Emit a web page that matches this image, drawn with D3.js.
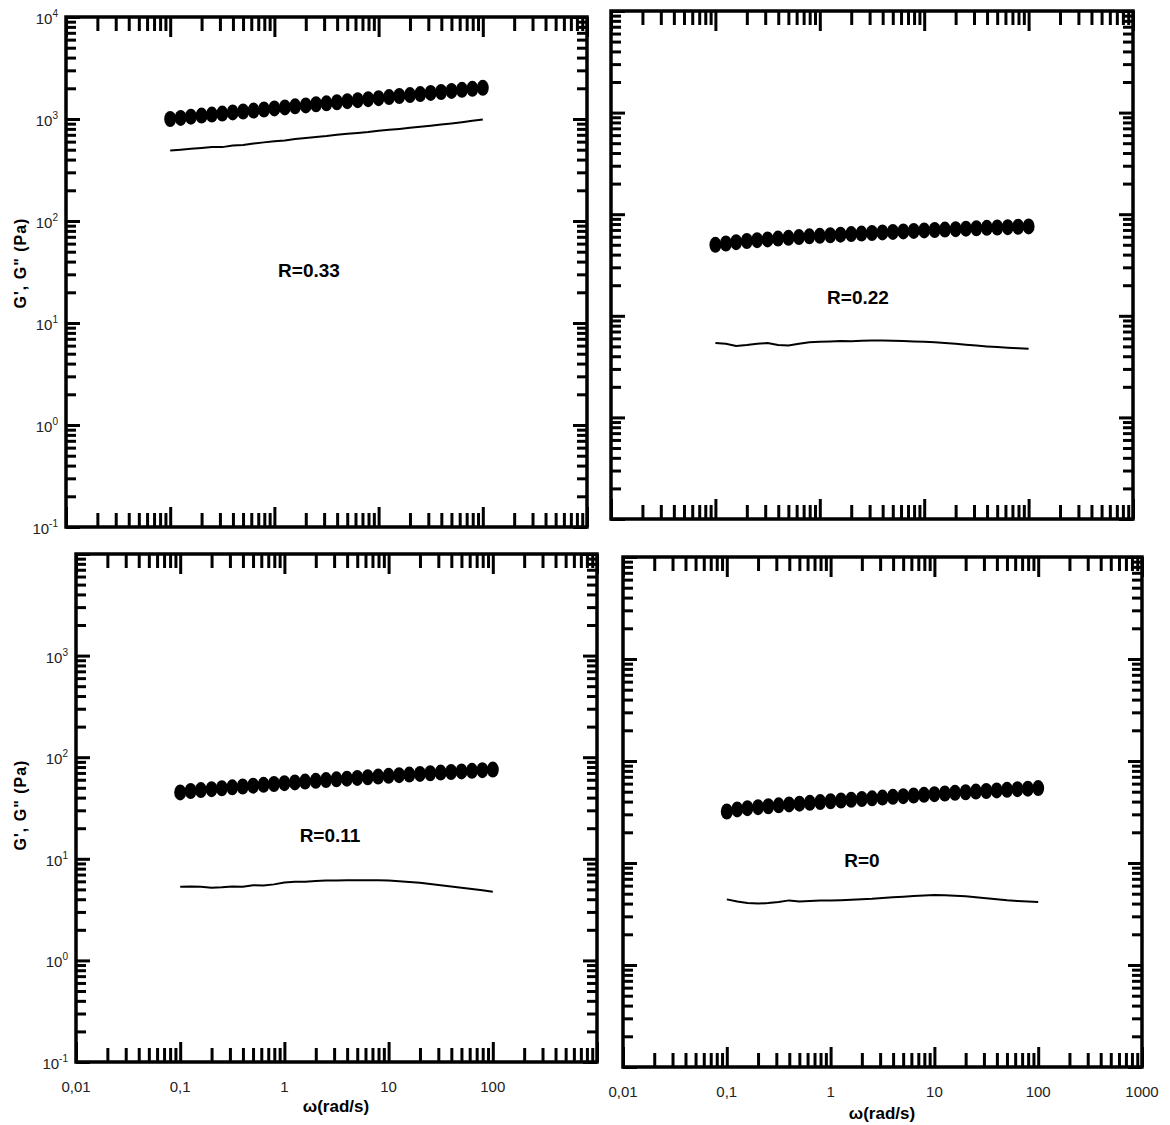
<!DOCTYPE html>
<html>
<head>
<meta charset="utf-8">
<script src="https://cdn.jsdelivr.net/npm/d3@7"></script>
<style>
body{ margin:0; background:#fff; }
svg{ font-family: "Liberation Sans", Arial, sans-serif; }
</style>
</head>
<body>
<svg id="chart" width="1170" height="1125"></svg>
<script>
// frequency sweep, 10 points per decade
var omega = [0.1, 0.126, 0.158, 0.2, 0.251, 0.316, 0.398, 0.501, 0.631, 0.794,
             1, 1.26, 1.58, 2, 2.51, 3.16, 3.98, 5.01, 6.31, 7.94,
             10, 12.6, 15.8, 20, 25.1, 31.6, 39.8, 50.1, 63.1, 79.4, 100];

// G' (circles) and G'' (line), Pa
var gp_r033  = [1000, 1025, 1055, 1080, 1105, 1130, 1160, 1185, 1210, 1240, 1270, 1300, 1330, 1360, 1395, 1425,
                1460, 1495, 1530, 1565, 1600, 1640, 1680, 1715, 1755, 1800, 1840, 1885, 1930, 1975, 2020];
var gpp_r033 = [490, 500, 510, 520, 530, 530, 550, 555, 575, 590, 605, 615, 635, 650, 665, 680,
                700, 715, 730, 745, 765, 785, 800, 820, 840, 860, 885, 905, 930, 960, 990];

var gp_r022  = [50, 51.5, 53, 54.5, 55.5, 56.5, 57.5, 58.5, 59.5, 60.5, 61.3, 62.1, 62.9, 63.7, 64.5, 65.3,
                66.1, 66.9, 67.7, 68.5, 69.2, 69.9, 70.6, 71.3, 72, 72.7, 73.4, 74, 74.6, 75.2, 75.8];
var gpp_r022 = [5.4, 5.3, 5.05, 5.15, 5.3, 5.4, 5.15, 5.1, 5.3, 5.5, 5.55, 5.6, 5.65, 5.62, 5.68, 5.7,
                5.7, 5.68, 5.65, 5.6, 5.55, 5.5, 5.4, 5.3, 5.2, 5.1, 5.0, 4.92, 4.85, 4.8, 4.75];

var gp_r011  = [45, 46.5, 47.5, 48.5, 49.5, 50.5, 51.5, 52.5, 53.5, 54.5, 55.5, 56.5, 57.5, 58.5, 59.5, 60.5,
                61.5, 62.5, 63.5, 64.5, 65.5, 66.5, 67.5, 68.5, 69.5, 70.5, 71.5, 72.5, 73.5, 74.5, 75.5];
var gpp_r011 = [5.3, 5.35, 5.3, 5.2, 5.25, 5.35, 5.3, 5.5, 5.45, 5.6, 5.85, 5.95, 5.95, 6.05, 6.1, 6.1,
                6.15, 6.15, 6.15, 6.15, 6.1, 6.0, 5.9, 5.8, 5.65, 5.5, 5.35, 5.2, 5.05, 4.9, 4.75];

var gp_r0    = [32, 33.5, 34.5, 35.3, 36, 36.8, 37.5, 38.2, 38.9, 39.6, 40.3, 41, 41.7, 42.4, 43.1, 43.8,
                44.5, 45.2, 45.9, 46.6, 47.3, 48, 48.7, 49.4, 50.1, 50.8, 51.5, 52.2, 52.9, 53.6, 54.3];
var gpp_r0   = [4.4, 4.2, 4.05, 4.0, 4.05, 4.15, 4.3, 4.2, 4.25, 4.3, 4.3, 4.32, 4.35, 4.4, 4.45, 4.55,
                4.62, 4.68, 4.75, 4.8, 4.85, 4.82, 4.78, 4.72, 4.62, 4.52, 4.42, 4.32, 4.25, 4.2, 4.15];

var panel_names = ['R=0.33', 'R=0.22', 'R=0.11', 'R=0'];

var x_domain = [0.01, 1000];
var y_domain = [0.1, 10000];
var x_tick_values = [0.01, 0.1, 1, 10, 100, 1000];
var x_tick_labels = ['0,01', '0,1', '1', '10', '100', '1000'];
var y_tick_values = [0.1, 1, 10, 100, 1000, 10000];
var y_tick_exps = ['-1', '0', '1', '2', '3', '4'];

var x_title = '\u03c9(rad/s)';
var y_title = 'G\', G" (Pa)';

/**************************************************************************************/

var layout = [
    { x0: 66,  x1: 587,  y0: 17,  y1: 527,  ylab: [0,1,2,3,4,5], xlab: [],            name: [309, 277], xt: null,       yt: [20, 263] },
    { x0: 611, x1: 1133, y0: 11,  y1: 519,  ylab: [],            xlab: [],            name: [858, 304], xt: null,       yt: null },
    { x0: 76,  x1: 597,  y0: 554, y1: 1062, ylab: [0,1,2,3,4],   xlab: [0,1,2,3,4],   name: [330, 842], xt: [336, 1112], yt: [20, 805] },
    { x0: 623, x1: 1142, y0: 557, y1: 1067, ylab: [],            xlab: [0,1,2,3,4,5], name: [862, 867], xt: [882, 1119], yt: null }
];
var series = [ [gp_r033, gpp_r033], [gp_r022, gpp_r022], [gp_r011, gpp_r011], [gp_r0, gpp_r0] ];

var svg = d3.select('#chart');

function isMajor(d){ var l = Math.log10(d); return Math.abs(l - Math.round(l)) < 1e-6; }

function drawPanel(i){
    var L = layout[i];
    var x = d3.scaleLog().domain(x_domain).range([L.x0, L.x1]);
    var y = d3.scaleLog().domain(y_domain).range([L.y1, L.y0]);
    var g = svg.append('g');

    // ticks on all four sides, pointing inward
    var xt = x.ticks(), yt = y.ticks();
    var axes = [
        { a: d3.axisBottom(x).tickValues(xt).tickSize(-14), t: 'translate(0,' + L.y1 + ')', minor: -14, major: -20, k: 'y2' },
        { a: d3.axisTop(x).tickValues(xt).tickSize(-14),    t: 'translate(0,' + L.y0 + ')', minor: 14,  major: 20,  k: 'y2' },
        { a: d3.axisLeft(y).tickValues(yt).tickSize(-10),   t: 'translate(' + L.x0 + ',0)', minor: 10,  major: 14,  k: 'x2' },
        { a: d3.axisRight(y).tickValues(yt).tickSize(-10),  t: 'translate(' + L.x1 + ',0)', minor: -10, major: -14, k: 'x2' }
    ];
    axes.forEach(function(ax){
        var ag = g.append('g').attr('transform', ax.t).call(ax.a.tickFormat(''));
        ag.select('.domain').remove();
        ag.selectAll('.tick line')
            .attr('stroke', '#000').attr('stroke-width', 3)
            .attr(ax.k, function(d){ return isMajor(d) ? ax.major : ax.minor; });
    });

    g.append('rect')
        .attr('x', L.x0).attr('y', L.y0)
        .attr('width', L.x1 - L.x0).attr('height', L.y1 - L.y0)
        .attr('fill', 'none').attr('stroke', '#000').attr('stroke-width', 3.5);

    // tick labels
    L.ylab.forEach(function(j){
        var t = g.append('text')
            .attr('x', L.x0 - 8).attr('y', y(y_tick_values[j]) + 7)
            .attr('text-anchor', 'end').attr('font-size', 15).attr('fill', '#222');
        t.append('tspan').text('10');
        t.append('tspan').attr('dy', -7).attr('font-size', 10).text(y_tick_exps[j]);
    });
    L.xlab.forEach(function(j){
        g.append('text')
            .attr('x', x(x_tick_values[j])).attr('y', L.y1 + 30)
            .attr('text-anchor', 'middle').attr('font-size', 15).attr('fill', '#222')
            .text(x_tick_labels[j]);
    });

    // data
    var gp = series[i][0], gpp = series[i][1];
    var line = d3.line().x(function(d, k){ return x(omega[k]); }).y(function(d){ return y(d); });
    g.append('path').datum(gpp)
        .attr('d', line).attr('fill', 'none').attr('stroke', '#000').attr('stroke-width', 2);
    g.selectAll('ellipse').data(gp).enter().append('ellipse')
        .attr('cx', function(d, k){ return x(omega[k]); })
        .attr('cy', function(d){ return y(d); })
        .attr('rx', 6).attr('ry', 8).attr('fill', '#000');

    g.append('text')
        .attr('x', L.name[0]).attr('y', L.name[1])
        .attr('text-anchor', 'middle').attr('font-size', 19).attr('font-weight', 'bold')
        .text(panel_names[i]);

    if(L.xt){
        g.append('text')
            .attr('x', L.xt[0]).attr('y', L.xt[1])
            .attr('text-anchor', 'middle').attr('font-size', 17).attr('font-weight', 'bold')
            .text(x_title);
    }
    if(L.yt){
        g.append('text')
            .attr('transform', 'translate(' + (L.yt[0] + 6) + ',' + L.yt[1] + ') rotate(-90)')
            .attr('text-anchor', 'middle').attr('font-size', 16).attr('font-weight', 'bold')
            .attr('letter-spacing', 1)
            .text(y_title);
    }
}

for(var i = 0; i < layout.length; i++){ drawPanel(i); }
</script>
</body>
</html>
